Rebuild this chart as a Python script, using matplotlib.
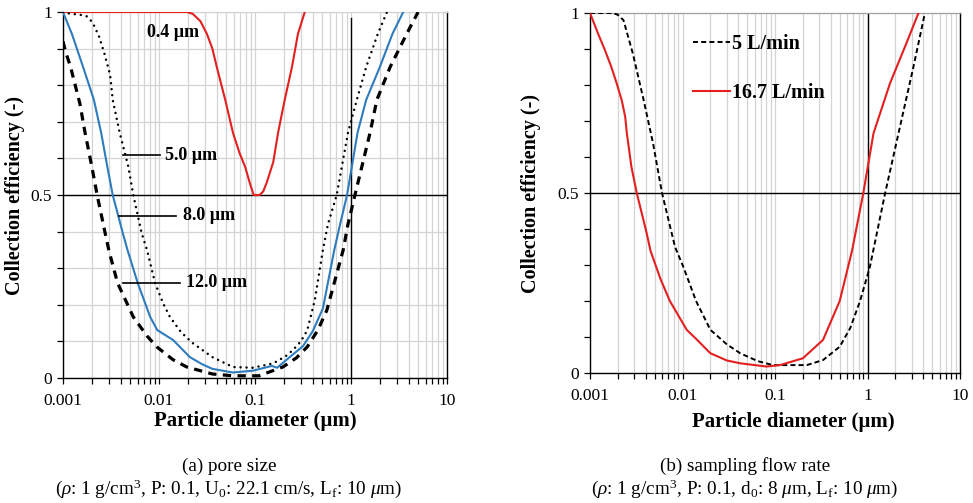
import matplotlib
matplotlib.use("Agg")
import matplotlib.pyplot as plt
from matplotlib.ticker import LogLocator, FixedLocator, NullFormatter

plt.rcParams['font.family'] = ['Liberation Serif', 'DejaVu Serif']
plt.rcParams['mathtext.fontset'] = 'custom'
plt.rcParams['mathtext.rm'] = 'Liberation Serif'
plt.rcParams['mathtext.it'] = 'Liberation Serif:italic'
plt.rcParams['mathtext.bf'] = 'Liberation Serif:bold'

# ---------------- (a) pore size ----------------
d_04 = [0.001, 0.005, 0.0196, 0.0225, 0.027, 0.0316, 0.036, 0.040, 0.049, 0.059, 0.069, 0.079, 0.089,
        0.097, 0.112, 0.122, 0.133, 0.155, 0.174, 0.204, 0.243, 0.28, 0.33]
e_04 = [1.0, 1.0, 1.0, 0.995, 0.975, 0.94, 0.90, 0.85, 0.76, 0.67, 0.615, 0.577, 0.53,
        0.50, 0.50, 0.51, 0.535, 0.59, 0.67, 0.76, 0.85, 0.94, 1.0]

d_50 = [0.001, 0.00116, 0.00154, 0.00178, 0.00196, 0.0021, 0.00237, 0.0027, 0.0031, 0.0033,
        0.0039, 0.0048, 0.0054, 0.0066, 0.0075, 0.0091, 0.011, 0.013, 0.017, 0.0223, 0.036, 0.059, 0.095,
        0.155, 0.21, 0.25, 0.30, 0.35, 0.42, 0.51, 0.575, 0.71, 0.93, 1.15, 1.44, 1.9, 2.37]
e_50 = [1.0, 0.996, 0.992, 0.988, 0.976, 0.964, 0.934, 0.887, 0.828, 0.76,
        0.67, 0.577, 0.50, 0.396, 0.35, 0.26, 0.205, 0.167, 0.125, 0.096, 0.057, 0.03, 0.028,
        0.04, 0.06, 0.077, 0.10, 0.13, 0.213, 0.35, 0.42, 0.50, 0.67, 0.76, 0.85, 0.94, 1.0]

d_80 = [0.001, 0.00124, 0.00162, 0.0021, 0.0025, 0.0029, 0.0033, 0.0042, 0.0047, 0.006,
        0.0081, 0.0096, 0.014, 0.021, 0.028, 0.036, 0.059, 0.095, 0.15, 0.17, 0.23, 0.316, 0.4,
        0.51, 0.67, 0.77, 0.91, 1.17, 1.44, 2.0, 2.7, 3.5]
e_80 = [1.0, 0.94, 0.85, 0.76, 0.67, 0.577, 0.50, 0.396, 0.35, 0.26,
        0.167, 0.131, 0.104, 0.057, 0.038, 0.025, 0.015, 0.02, 0.033, 0.028, 0.057, 0.087, 0.128,
        0.19, 0.35, 0.42, 0.50, 0.67, 0.76, 0.85, 0.94, 1.0]

d_120 = [0.001, 0.00107, 0.0012, 0.0015, 0.0017, 0.002, 0.00227, 0.00275, 0.003, 0.0037,
         0.0054, 0.0075, 0.0095, 0.014, 0.0195, 0.036, 0.059, 0.11, 0.195, 0.27, 0.35, 0.45, 0.56, 0.83, 0.93, 1.1,
         1.58, 1.86, 2.56, 3.8, 5.0]
e_120 = [0.92, 0.89, 0.85, 0.75, 0.67, 0.577, 0.50, 0.396, 0.35, 0.26,
         0.167, 0.115, 0.085, 0.05, 0.03, 0.011, 0.006, 0.006, 0.03, 0.055, 0.085, 0.13, 0.185, 0.35, 0.42, 0.50,
         0.67, 0.76, 0.85, 0.94, 1.0]

# label texts and leader lines (axes (a))
pore_labels = ["0.4 µm", "5.0 µm", "8.0 µm", "12.0 µm"]
label_x = [0.0075, 0.01155, 0.0178, 0.019]
label_y = [0.945, 0.609, 0.443, 0.26]
leader_x0 = [None, 0.00422, 0.00383, 0.00422]
leader_x1 = [None, 0.0102, 0.01503, 0.0165]

# ---------------- (b) sampling flow rate ----------------
d_5 = [0.001, 0.00178, 0.002, 0.0023, 0.0029, 0.0038, 0.0048, 0.006, 0.0083, 0.0102, 0.014,
       0.02, 0.03, 0.042, 0.065, 0.095, 0.22, 0.33, 0.50, 0.65, 0.83, 1.06, 1.55, 2.24, 3.13, 4.17]
e_5 = [1.0, 1.0, 0.995, 0.98, 0.888, 0.758, 0.638, 0.50, 0.35, 0.295, 0.2,
       0.12, 0.08, 0.055, 0.033, 0.022, 0.022, 0.036, 0.073, 0.125, 0.2, 0.295, 0.50, 0.684, 0.85, 1.0]

d_167 = [0.001, 0.00122, 0.00145, 0.0017, 0.00194, 0.0022, 0.0024, 0.0025, 0.0028, 0.0032,
         0.0041, 0.0045, 0.0058, 0.0073, 0.0111, 0.014, 0.02, 0.03, 0.042, 0.081, 0.113, 0.2, 0.33, 0.5, 0.68,
         0.90, 1.16, 1.75, 2.63, 3.55]
e_167 = [1.0, 0.943, 0.897, 0.85, 0.805, 0.758, 0.712, 0.666, 0.573, 0.50,
         0.388, 0.34, 0.26, 0.2, 0.12, 0.095, 0.055, 0.035, 0.027, 0.018, 0.022, 0.041, 0.092, 0.2, 0.34,
         0.50, 0.666, 0.805, 0.916, 1.0]

flow_labels = ["5 L/min", "16.7 L/min"]

x_ticks = [0.001, 0.01, 0.1, 1, 10]
x_ticklabels = ["0.001", "0.01", "0.1", "1", "10"]
y_ticks = [0, 0.1, 0.2, 0.3, 0.4, 0.5, 0.6, 0.7, 0.8, 0.9, 1.0]
y_ticklabels = ["0", "", "", "", "", "0.5", "", "", "", "", "1"]

RED = '#e3201f'
BLUE = '#2e7bbd'
GRID = '#d4d4d4'

fig = plt.figure(figsize=(9.73, 5.03), dpi=100)
axA = fig.add_axes([0.0647, 0.2485, 0.3947, 0.7276])
axB = fig.add_axes([0.6064, 0.2584, 0.3803, 0.7157])


def style_axes(ax, hgrid, top_color):
    ax.set_xscale('log')
    ax.set_xlim(0.001, 10)
    ax.set_ylim(0, 1)
    ax.xaxis.set_major_locator(FixedLocator(x_ticks))
    ax.xaxis.set_minor_locator(LogLocator(base=10, subs=range(2, 10)))
    ax.xaxis.set_minor_formatter(NullFormatter())
    ax.set_xticklabels(x_ticklabels)
    ax.set_yticks(y_ticks)
    ax.set_yticklabels(y_ticklabels)
    ax.tick_params(axis='both', which='both', direction='out', length=4, width=0.9,
                   labelsize=12.5, colors='black', pad=4)
    ax.tick_params(axis='x', pad=7)
    ax.grid(True, which='both', axis='x', color=GRID, lw=0.9, zorder=0)
    if hgrid:
        ax.grid(True, which='major', axis='y', color=GRID, lw=0.9, zorder=0)
    for s in ['left', 'bottom', 'right']:
        ax.spines[s].set_color('black')
        ax.spines[s].set_linewidth(1.0)
    ax.spines['top'].set_color(top_color)
    ax.spines['top'].set_linewidth(0.9)
    ax.axhline(0.5, color='black', lw=1.0, zorder=2)


style_axes(axA, True, GRID)
style_axes(axB, False, '#a0a0a0')

axA.axvline(1, ymax=0.985, color='black', lw=1.0, zorder=2)
axB.axvline(1, color='black', lw=1.0, zorder=2)

# (a) curves
axA.plot(d_04, e_04, color=RED, lw=1.5, zorder=3)
axA.plot(d_80, e_80, color=BLUE, lw=1.5, zorder=3)
axA.plot(d_50, e_50, color='black', lw=1.8, linestyle=(0, (0.01, 2.4)),
         dash_capstyle='round', zorder=3)
axA.plot(d_120, e_120, color='black', lw=2.3, linestyle=(0, (2.6, 2.0)), zorder=3)

for i, lab in enumerate(pore_labels):
    axA.text(label_x[i], label_y[i], lab, fontsize=13, fontweight='bold',
             ha='left', va='center', zorder=4)
    if leader_x0[i] is not None:
        axA.plot([leader_x0[i], leader_x1[i]], [label_y[i], label_y[i]],
                 color='black', lw=1.2, zorder=4)

# (b) curves
axB.plot(d_5, e_5, color='black', lw=1.4, linestyle=(0, (2.6, 1.6)),
         label=flow_labels[0], zorder=3)
axB.plot(d_167, e_167, color=RED, lw=1.5, label=flow_labels[1], zorder=3)
leg = axB.legend(loc='upper left', bbox_to_anchor=(0.228, 0.993), frameon=False,
                 handlelength=1.85, handletextpad=0.1, labelspacing=1.45,
                 prop={'family': 'Liberation Serif', 'weight': 'bold', 'size': 14.5})

for ax, xl_x, xl_y, yl_x in [(axA, 0.5, -0.1175, -0.125), (axB, 0.549, -0.136, -0.159)]:
    ax.set_xlabel("Particle diameter (µm)", fontsize=15, fontweight='bold')
    ax.set_ylabel("Collection efficiency (-)", fontsize=14.5, fontweight='bold')
    ax.xaxis.set_label_coords(xl_x, xl_y)
    ax.xaxis.label.set_va('center')
    ax.yaxis.set_label_coords(yl_x, 0.5)
    ax.yaxis.label.set_va('center')

fig.text(229 / 973, 1 - 466 / 503, "(a) pore size", fontsize=13.8, ha='center', va='center')
fig.text(229 / 973, 1 - 489 / 503,
         r"($\rho$: 1 g/cm$^3$, P: 0.1, U$_0$: 22.1 cm/s, L$_\mathrm{f}$: 10 $\mu$m)",
         fontsize=13.8, ha='center', va='center')
fig.text(745 / 973, 1 - 466 / 503, "(b) sampling flow rate", fontsize=13.8, ha='center', va='center')
fig.text(745 / 973, 1 - 489 / 503,
         r"($\rho$: 1 g/cm$^3$, P: 0.1, d$_0$: 8 $\mu$m, L$_\mathrm{f}$: 10 $\mu$m)",
         fontsize=13.8, ha='center', va='center')

fig.savefig("out.png", dpi=100)
